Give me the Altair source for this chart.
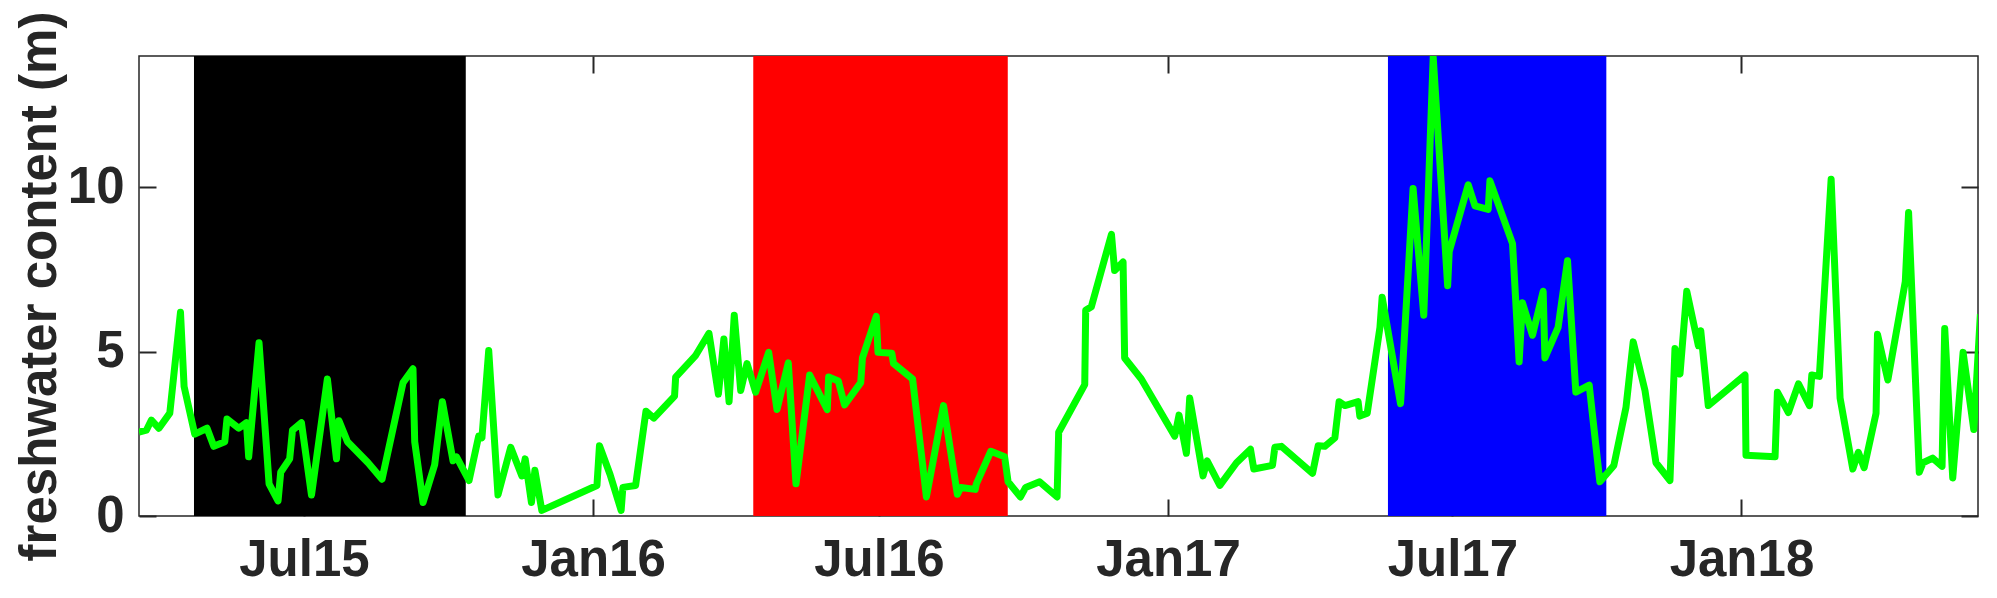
import altair as alt
import pandas as pd

# Sampling days (offset in days from 2016-01-01)
days = [-289.0, -284.3, -281.1, -276.3, -269.4, -262.6, -260.3, -253.5, -245.7, -241.4, -234.4, -233.0,
        -225.5, -220.6, -219.2, -212.6, -206.2, -200.5, -198.8, -193.1, -191.3, -185.6, -179.2, -169.1,
        -163.3, -161.7, -156.3, -143.2, -134.3, -120.9, -114.6, -113.5, -108.2, -100.8, -95.9, -89.1,
        -86.9, -78.9, -72.8, -70.7, -66.4, -60.5,
        -52.4, -45.3, -43.2, -39.2, -37.0, -32.6, 2.5, 4.1, 10.8, 17.9, 19.0, 27.1,
        33.7, 38.7, 51.9, 52.6, 65.1, 73.8, 79.8, 83.3, 86.6, 89.9, 94.0, 98.0,
        103.5, 111.8, 117.1, 124.3, 129.2, 137.9, 149.1, 150.0, 156.1, 160.1, 170.4, 171.5,
        180.3, 181.4, 190.2, 191.3, 203.4, 212.2, 223.1, 231.9, 234.1, 243.3, 244.0, 253.2,
        262.0, 264.2,
        272.1, 275.4, 284.3, 295.4, 296.4, 313.0, 313.6, 317.2, 330.0, 332.0, 337.4, 338.4,
        349.0, 370.3, 373.0, 377.7, 379.8, 388.3, 390.9, 399.0, 409.6, 418.5, 420.6, 432.5,
        434.0, 438.2, 458.0, 461.6, 465.8, 472.2, 474.9, 478.6, 487.0, 488.1, 492.8, 500.9,
        502.3, 514.0, 522.0, 528.8, 534.8, 544.0, 545.0, 557.1, 561.4, 569.8, 570.9, 585.3,
        589.5,
        591.6, 598.0, 604.8, 605.9, 614.3, 620.3, 625.6, 634.1, 640.9, 649.8, 657.5, 662.1,
        669.6, 676.6, 685.5, 688.7, 691.9, 696.2, 703.6, 705.1, 709.9, 733.3, 733.9, 752.4,
        753.9, 760.9, 767.3, 774.3, 775.8, 780.6, 788.1, 793.8, 801.9, 805.4, 809.1, 816.7,
        817.6, 824.2, 835.3, 837.4, 844.2, 846.6, 852.7, 858.7, 860.4, 865.5, 872.1, 878.9,
        883.1]

# Freshwater content (m)
fwc = [2.55, 2.61, 2.92, 2.67, 3.13, 6.2, 3.94, 2.49, 2.67, 2.12, 2.26, 2.95,
       2.67, 2.84, 1.8, 5.27, 0.98, 0.46, 1.33, 1.74, 2.61, 2.84, 0.64, 4.17,
       1.74, 2.9, 2.26, 1.62, 1.12, 4.06, 4.48, 2.26, 0.41, 1.56, 3.48, 1.68,
       1.8, 1.08, 2.43, 2.38, 5.04, 0.64,
       2.09, 1.22, 1.74, 0.41, 1.39, 0.17, 0.93, 2.14, 1.27, 0.17, 0.87, 0.93,
       3.19, 2.98, 3.65, 4.23, 4.87, 5.56, 3.71, 5.39, 3.48, 6.11, 3.82, 4.64,
       3.77, 4.98, 3.24, 4.66, 0.98, 4.29, 3.24, 4.23, 4.11, 3.38, 4.06, 4.81,
       6.08, 4.98, 4.95, 4.64, 4.17, 0.58, 3.36, 0.66, 0.87, 0.81, 0.98, 1.97,
       1.8, 1.04,
       0.58, 0.87, 1.04, 0.58, 2.55, 4.0, 6.26, 6.37, 8.57, 7.47, 7.73, 4.81,
       4.17, 2.43, 3.07, 1.91, 3.59, 1.22, 1.68, 0.93, 1.62, 2.03, 1.43, 1.54,
       2.09, 2.12, 1.3, 2.14, 2.12, 2.38, 3.48, 3.36, 3.48, 3.04, 3.13, 5.74,
       6.66, 3.42, 9.97, 6.11, 13.96, 7.01, 8.05, 10.08, 9.44, 9.33, 10.2, 8.29,
       4.69,
       6.49, 5.5, 6.84, 4.81, 5.74, 7.77, 3.77, 3.98, 1.04, 1.54, 3.3, 5.3,
       3.82, 1.62, 1.08, 5.1, 4.32, 6.84, 5.18, 5.64, 3.36, 4.29, 1.85, 1.8,
       3.77, 3.15, 4.02, 3.36, 4.29, 4.25, 10.25, 3.59, 1.43, 1.94, 1.47, 3.13,
       5.53, 4.14, 7.13, 9.24, 1.33, 1.62, 1.76, 1.51, 5.71, 1.16, 4.98, 2.63,
       6.14]

# Shaded periods
period_start = ["2015-04-22T00:00:00", "2016-04-12T00:00:00", "2017-05-21T00:00:00"]
period_end = ["2015-10-12T00:00:00", "2016-09-21T00:00:00", "2017-10-07T00:00:00"]
period_name = ["p2015", "p2016", "p2017"]
period_color = ["#000000", "#FF0000", "#0000FF"]

tick_dates = [(2015, 7), (2016, 1), (2016, 7), (2017, 1), (2017, 7), (2018, 1)]
y_ticks = [0, 5, 10]

base = pd.Timestamp("2016-01-01")
dates = [(base + pd.Timedelta(days=d)).strftime("%Y-%m-%dT%H:%M:%S") for d in days]
line_df = pd.DataFrame({"date": dates, "fwc": fwc})
rect_df = pd.DataFrame({"start": period_start, "end": period_end, "period": period_name})

FONT = "Liberation Sans"
TXT = "#262626"
FS = 51

x_scale = alt.Scale(domain=[alt.DateTime(year=2015, month=3, date=18),
                            alt.DateTime(year=2018, month=5, date=31, hours=14)])
y_scale = alt.Scale(domain=[0, 14], nice=False, zero=False)
tick_vals = [alt.DateTime(year=y, month=m, date=1) for y, m in tick_dates]

common_tick = dict(offset=-17, tickSize=17, domain=False, grid=False, tickColor=TXT, tickWidth=2)

bottom_axis = alt.Axis(orient="bottom", values=tick_vals, format="%b%y", title=None,
                       labelFont=FONT, labelFontSize=FS, labelFontWeight="bold", labelColor=TXT,
                       labelPadding=19, labelFlush=False, labelOverlap=False, **common_tick)
top_axis = alt.Axis(orient="top", values=tick_vals, labels=False, title=None, **common_tick)
left_axis = alt.Axis(orient="left", values=y_ticks, title="freshwater content (m)",
                     titleFont=FONT, titleFontSize=FS, titleFontWeight="bold", titleColor=TXT,
                     titlePadding=1,
                     labelFont=FONT, labelFontSize=FS, labelFontWeight="bold", labelColor=TXT,
                     labelPadding=15, labelFlush=False, labelOverlap=False, **common_tick)
right_axis = alt.Axis(orient="right", values=y_ticks, labels=False, title=None, **common_tick)

rects = alt.Chart(rect_df).mark_rect().encode(
    x=alt.X("start:T", scale=x_scale, axis=bottom_axis),
    x2="end:T",
    color=alt.Color("period:N", scale=alt.Scale(domain=period_name, range=period_color), legend=None),
)

line = alt.Chart(line_df).mark_line(color="#00FF00", strokeWidth=7, clip=True, strokeJoin="round").encode(
    x=alt.X("date:T", scale=x_scale, axis=top_axis),
    y=alt.Y("fwc:Q", scale=y_scale, axis=left_axis),
)

ghost = alt.Chart(line_df).mark_line(opacity=0, clip=True).encode(
    x=alt.X("date:T", scale=x_scale, axis=None),
    y=alt.Y("fwc:Q", scale=y_scale, axis=right_axis),
)

chart = alt.layer(rects, line, ghost).resolve_axis(x="independent", y="independent").properties(
    width=1839, height=460,
    autosize=alt.AutoSizeParams(type="none"),
    padding={"left": 131, "top": 48, "right": 11, "bottom": 74},
).configure_view(stroke=TXT, strokeWidth=1.5)

chart.save("out.html", embed_options={"renderer": "svg", "actions": False})
